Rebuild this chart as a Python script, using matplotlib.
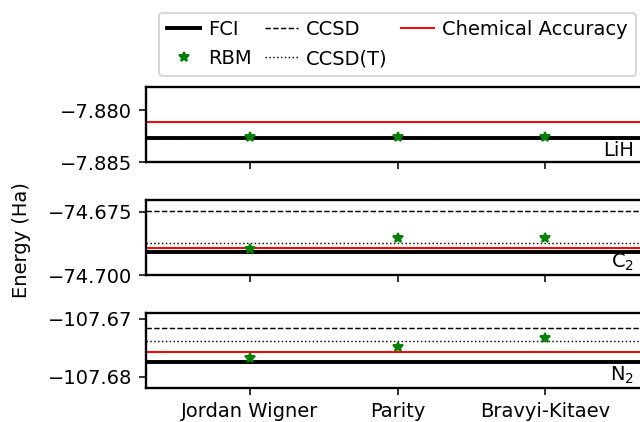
import matplotlib
matplotlib.use("Agg")
import matplotlib.pyplot as plt
from matplotlib.ticker import ScalarFormatter

# ── Data ─────────────────────────────────────────────────────────────────────
mappings = ["Jordan Wigner", "Parity", "Bravyi-Kitaev"]
molecules = ["LiH", "C$_2$", "N$_2$"]

fci = [-7.8827, -74.6909, -107.6774]
ccsd = [-7.8827, -74.6746, -107.6717]
ccsd_t = [-7.8827, -74.6873, -107.6738]
chem_acc = [-7.8811, -74.6893, -107.6758]

rbm_lih = [-7.8826, -7.8826, -7.8826]
rbm_c2 = [-74.6895, -74.6853, -74.6853]
rbm_n2 = [-107.6767, -107.6748, -107.6734]
rbm = [rbm_lih, rbm_c2, rbm_n2]

ylims = [(-7.885, -7.8778), (-74.700, -74.6702), (-107.6819, -107.6690)]
yticks = [[-7.885, -7.880], [-74.700, -74.675], [-107.68, -107.67]]


fig, axes = plt.subplots(3, 1, sharex=True, figsize=(640 / 140, 422 / 140), dpi=140)
fig.subplots_adjust(left=0.2281, right=1.0141, top=0.7938, bottom=0.0806, hspace=0.5)

x = list(range(len(mappings)))
for i, ax in enumerate(axes):
    ax.axhline(fci[i], color="black", linewidth=2, label="FCI")
    ax.plot(x, rbm[i], linestyle="none", marker="*", color="green",
            markersize=5.5, label="RBM", zorder=3)
    ax.axhline(ccsd[i], color="black", linestyle="--", linewidth=0.75, label="CCSD")
    ax.axhline(ccsd_t[i], color="black", linestyle=":", linewidth=0.75, label="CCSD(T)")
    ax.axhline(chem_acc[i], color="red", linewidth=1, label="Chemical Accuracy")

    ax.set_ylim(*ylims[i])
    ax.set_yticks(yticks[i])
    fmt = ScalarFormatter(useOffset=False)
    ax.yaxis.set_major_formatter(fmt)
    ax.text(0.97, 0.03, molecules[i], transform=ax.transAxes,
            ha="right", va="bottom")
    for sp in ax.spines.values():
        sp.set_linewidth(1.2)

axes[-1].set_xlim(-0.7, 2.7)
axes[-1].set_xticks(x)
axes[-1].set_xticklabels(mappings)

axes[0].legend(loc="lower center", bbox_to_anchor=(0.5, 1.02), ncol=3,
               handlelength=1.7, handletextpad=0.4, columnspacing=0.7)

fig.text(0.033, 0.431, "Energy (Ha)", rotation=90, ha="center", va="center")

fig.savefig("out.png", dpi=140)
